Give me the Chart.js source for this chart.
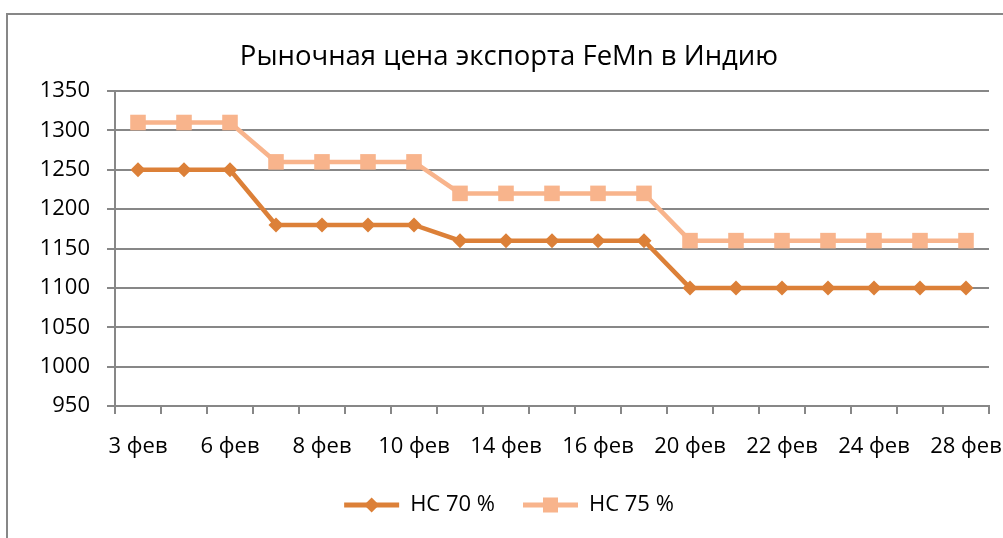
<!DOCTYPE html>
<html>
<head>
<meta charset="utf-8">
<script src="https://cdn.jsdelivr.net/npm/chart.js@4"></script>
<style>
html,body{margin:0;padding:0;background:#fff;}
#wrap{position:relative;width:1003px;height:538px;overflow:hidden;}
#frame{position:absolute;left:6px;top:13px;width:1100px;height:600px;border:2px solid #878787;box-sizing:border-box;}
#c{position:absolute;left:0;top:0;}
</style>
</head>
<body>
<div id="wrap">
<div id="frame"></div>
<canvas id="c" width="1003" height="538"></canvas>
</div>
<script>
const categories = ['3 фев','5 фев','6 фев','7 фев','8 фев','9 фев','10 фев','13 фев','14 фев','15 фев','16 фев','17 фев','20 фев','21 фев','22 фев','23 фев','24 фев','27 фев','28 фев'];
const hc70 = [1250,1250,1250,1180,1180,1180,1180,1160,1160,1160,1160,1160,1100,1100,1100,1100,1100,1100,1100];
const hc75 = [1310,1310,1310,1260,1260,1260,1260,1220,1220,1220,1220,1220,1160,1160,1160,1160,1160,1160,1160];
const seriesNames = ['НС 70 %','НС 75 %'];
const titleText = 'Рыночная цена экспорта FeMn в Индию';
const yTicks = {min:950, max:1350, step:50};

const FONT = "'Open Sans', 'Noto Sans', sans-serif";
const c1 = '#DC8038', c2 = '#F8B48C';

new Chart(document.getElementById('c'), {
  type:'line',
  data:{
    labels: categories,
    datasets:[
      {label:seriesNames[0], data:hc70, borderColor:c1, backgroundColor:c1, borderWidth:4.5, pointStyle:'rectRot', pointRadius:7.5, pointHoverRadius:7.5, pointBorderWidth:0, tension:0},
      {label:seriesNames[1], data:hc75, borderColor:c2, backgroundColor:c2, borderWidth:4.5, pointStyle:'rect', pointRadius:11, pointHoverRadius:11, pointBorderWidth:0, tension:0}
    ]
  },
  options:{
    responsive:false, animation:false, devicePixelRatio:1,
    layout:{padding:{left:29, right:14, top:41, bottom:12}},
    plugins:{
      title:{display:true, text:titleText, color:'#000', font:{family:FONT, size:27.5, weight:'normal'}, padding:{top:0, bottom:17}},
      legend:{position:'bottom', labels:{color:'#000', font:{family:FONT, size:22}, boxWidth:55, boxHeight:5, padding:28,
        generateLabels(chart){
          return chart.data.datasets.map((d,i)=>({text:d.label, fillStyle:d.borderColor, strokeStyle:d.borderColor, lineWidth:0, hidden:false, datasetIndex:i}));
        }}},
      tooltip:{enabled:false}
    },
    scales:{
      x:{offset:true,
        afterFit(s){ s.height = 60; s.paddingLeft = 0; s.paddingRight = 0; },
        grid:{offset:true, drawOnChartArea:false, drawTicks:true, tickLength:8, color:'#878787', lineWidth:2},
        border:{display:true, color:'#878787', width:2},
        ticks:{color:'#000', font:{family:FONT, size:22}, autoSkip:false, maxRotation:0, minRotation:0, padding:20,
          callback(v,i){return i%2===0 ? categories[i] : '';}}
      },
      y:{min:yTicks.min, max:yTicks.max,
        afterFit(s){ s.width = 86; s.paddingTop = 0; s.paddingBottom = 0; },
        grid:{color:'#878787', lineWidth:2, drawTicks:true, tickLength:8},
        border:{display:true, color:'#878787', width:2},
        ticks:{stepSize:yTicks.step, color:'#000', font:{family:FONT, size:22}, padding:17,
          callback(v){return String(v);}}
      }
    }
  },
  plugins:[{
    id:'legendMarkers',
    afterDraw(chart){
      const lg = chart.legend; if(!lg || !lg.legendHitBoxes) return;
      const ctx = chart.ctx;
      lg.legendHitBoxes.forEach((b,i)=>{
        const ds = chart.data.datasets[i];
        const cx = b.left + 27.5, cy = b.top + b.height/2;
        ctx.save(); ctx.fillStyle = ds.borderColor;
        if(i===0){ctx.beginPath();ctx.moveTo(cx,cy-7.5);ctx.lineTo(cx+7.5,cy);ctx.lineTo(cx,cy+7.5);ctx.lineTo(cx-7.5,cy);ctx.closePath();ctx.fill();}
        else{ctx.fillRect(cx-7.5,cy-7.5,15,15);}
        ctx.restore();
      });
    }
  }]
});
</script>
</body>
</html>
